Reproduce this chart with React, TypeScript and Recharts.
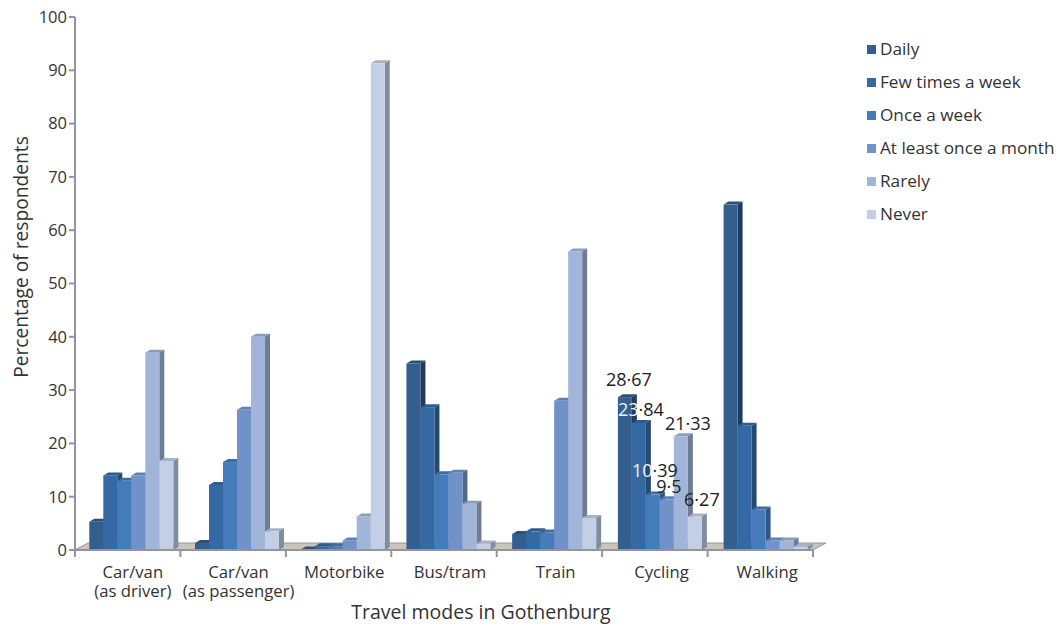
import { BarChart, Bar, XAxis, YAxis, Legend, LabelList, ReferenceArea } from 'recharts';

const categories = [
  'Car/van|(as driver)',
  'Car/van|(as passenger)',
  'Motorbike',
  'Bus/tram',
  'Train',
  'Cycling',
  'Walking',
];

const daily = [5.3, 1.3, 0.1, 35, 3, 28.67, 64.8];
const fewTimes = [14, 12.2, 0.7, 26.8, 3.5, 23.84, 23.3];
const onceWeek = [13, 16.5, 0.7, 14.2, 3.3, 10.39, 7.6];
const onceMonth = [14, 26.3, 1.8, 14.5, 28, 9.5, 1.8];
const rarely = [37, 40, 6.3, 8.7, 56, 21.33, 1.8];
const never = [16.7, 3.5, 91.3, 1.2, 6, 6.27, 0.6];

const yTicks = [0, 10, 20, 30, 40, 50, 60, 70, 80, 90, 100];
const frameTicks = [0, 1, 2, 3, 4, 5, 6, 7];
const labelledCategory = 5;

const chartData = categories.map((name, i) => ({
  name,
  slot: i,
  daily: daily[i],
  fewTimes: fewTimes[i],
  onceWeek: onceWeek[i],
  onceMonth: onceMonth[i],
  rarely: rarely[i],
  never: never[i],
}));

const FONT = '"Open Sans", sans-serif';
const TEXT = '#333333';
const AXIS = '#92969c';
const DX = 5;
const DY = -3;

const seriesList = [
  { key: 'daily', name: 'Daily', fill: '#335e8d', top: '#2c5078', side: '#1f3b5e', lx: 4, ly: -18, light: 0 },
  { key: 'fewTimes', name: 'Few times a week', fill: '#3469a3', top: '#2e5c8f', side: '#234a75', lx: 2, ly: -14, light: 2 },
  { key: 'onceWeek', name: 'Once a week', fill: '#467bb9', top: '#3e6ca3', side: '#2f5685', lx: 2, ly: -25, light: 2 },
  { key: 'onceMonth', name: 'At least once a month', fill: '#7092c8', top: '#6080b0', side: '#4f688f', lx: 2, ly: -13, light: 0 },
  { key: 'rarely', name: 'Rarely', fill: '#a0b5d8', top: '#8a9cba', side: '#6d7d97', lx: 7, ly: -13, light: 0 },
  { key: 'never', name: 'Never', fill: '#c2cfe4', top: '#a7b2c5', side: '#808c9f', lx: 7, ly: -18, light: 0 },
];

function Bar3D(props: any) {
  const { x, y, width, height, fill, top, side } = props;
  const r = x + width;
  const b = y + height;
  return (
    <g>
      <polygon points={`${x},${y} ${x + DX},${y + DY} ${r + DX},${y + DY} ${r},${y}`} fill={top} />
      <polygon points={`${r},${y} ${r + DX},${y + DY} ${r + DX},${b + DY} ${r},${b}`} fill={side} />
      <rect x={x} y={y} width={width} height={height} fill={fill} />
    </g>
  );
}

function Floor(props: any) {
  const { x, y, width, height } = props;
  const b = y + height;
  const r = x + width;
  return (
    <polygon
      points={`${x},${b} ${x + 13},${b - 7} ${r + 13},${b - 7} ${r},${b}`}
      fill="#c9c5b9"
      stroke={AXIS}
      strokeWidth={1}
    />
  );
}

function CategoryTick(props: any) {
  const { x, y, payload } = props;
  const [first, second] = payload.value.split('|');
  return (
    <g>
      <text x={x + 1} y={y + 19} textAnchor="middle" fontSize={16.7} fill={TEXT} fontFamily={FONT}>{first}</text>
      {second && (
        <text x={x + 1} y={y + 38} textAnchor="middle" fontSize={16.7} fill={TEXT} fontFamily={FONT}>{second}</text>
      )}
    </g>
  );
}

function makeValueLabel(lx: number, ly: number, light: number) {
  return function ValueLabel(props: any) {
    const { x, y, width, value, index } = props;
    if (index !== labelledCategory) return null;
    const str = String(value).replace('.', '·');
    return (
      <text x={x + width / 2 + lx} y={y + ly} textAnchor="middle" dominantBaseline="central" fontSize={18} fontFamily={FONT}>
        <tspan fill="#f2f4f8">{str.slice(0, light)}</tspan>
        <tspan fill="#222222">{str.slice(light)}</tspan>
      </text>
    );
  };
}

function LegendBox(props: any) {
  return (
    <div style={{ fontFamily: FONT, fontSize: 17.2, color: TEXT }}>
      {props.payload.map((item: any) => (
        <div key={item.value} style={{ display: 'flex', alignItems: 'center', height: 33, whiteSpace: 'nowrap' }}>
          <span style={{ width: 9, height: 9, background: item.color, marginRight: 4, marginTop: 2 }} />
          {item.value}
        </div>
      ))}
    </div>
  );
}

export default function App() {
  return (
    <div style={{ position: 'absolute', left: 0, top: 0, width: 1058, height: 625, background: '#fff' }}>
      <BarChart
        width={1058}
        height={625}
        data={chartData}
        margin={{ top: 17, right: 245, bottom: 0, left: 0 }}
        barGap={0}
        barCategoryGap={10.3}
      >
        <XAxis
          xAxisId="frame"
          type="number"
          dataKey="slot"
          domain={[0, 7]}
          ticks={frameTicks}
          allowDataOverflow
          height={1}
          stroke={AXIS}
          strokeWidth={2}
          tickSize={7}
          tick={() => <g />}
        />
        <XAxis
          xAxisId="main"
          dataKey="name"
          height={74}
          padding={{ left: 4, right: -6 }}
          axisLine={false}
          tickLine={false}
          tick={<CategoryTick />}
          interval={0}
          label={{
            content: () => (
              <text x={481} y={619} textAnchor="middle" fontSize={19.5} fill={TEXT} fontFamily={FONT}>
                Travel modes in Gothenburg
              </text>
            ),
          }}
        />
        <YAxis
          width={75}
          domain={[0, 100]}
          ticks={yTicks}
          interval={0}
          stroke={AXIS}
          strokeWidth={2}
          tickSize={6}
          tick={{ fontSize: 16.5, fill: TEXT, fontFamily: FONT }}
          label={{
            content: () => (
              <text
                transform="translate(28,257) rotate(-90)"
                textAnchor="middle"
                fontSize={19.2}
                fill={TEXT}
                fontFamily={FONT}
              >
                Percentage of respondents
              </text>
            ),
          }}
        />
        <ReferenceArea xAxisId="frame" x1={0} x2={7} y1={0} y2={1} ifOverflow="visible" shape={<Floor />} />
        {seriesList.map((s) => (
          <Bar
            key={s.key}
            xAxisId="main"
            dataKey={s.key}
            name={s.name}
            fill={s.fill}
            isAnimationActive={false}
            shape={(p: any) => <Bar3D {...p} fill={s.fill} top={s.top} side={s.side} />}
          >
            <LabelList dataKey={s.key} content={makeValueLabel(s.lx, s.ly, s.light)} />
          </Bar>
        ))}
        <Legend
          layout="vertical"
          align="center"
          verticalAlign="middle"
          itemSorter={null}
          content={<LegendBox />}
          wrapperStyle={{ left: 867, top: 32, width: 190, height: 198 }}
        />
      </BarChart>
    </div>
  );
}
